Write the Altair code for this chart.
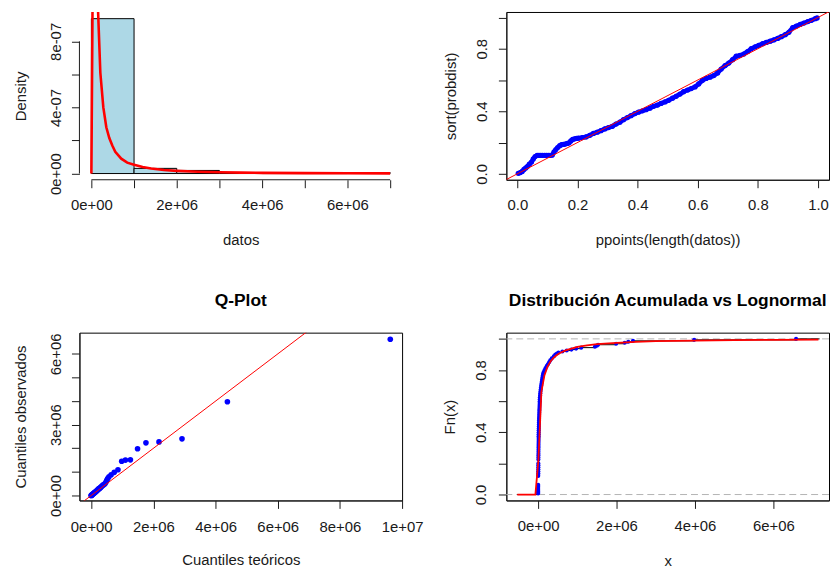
import altair as alt
import pandas as pd

# ---------------- data ----------------
N_OBS = 160

# histogram (top-left)
hist_left = [0, 1000000, 2000000, 3000000, 4000000, 5000000, 6000000]
hist_right = [1000000, 2000000, 3000000, 4000000, 5000000, 6000000, 7000000]
hist_count = [150, 5, 3, 1, 0, 0, 1]

# fitted lognormal density (red curve, top-left)
dens_x = [0, 70000, 140000, 210000, 280000, 350000, 420000, 490000, 560000, 700000,
          840000, 1000000, 1200000, 1400000, 1700000, 2000000, 2500000, 3000000,
          3500000, 4000000, 5000000, 6000000, 7000000]
dens_y = [0, 2.6e-6, 1.1e-6, 6.1e-7, 4.0e-7, 2.8e-7, 2.15e-7, 1.7e-7, 1.32e-7, 9.0e-8,
          6.6e-8, 5.3e-8, 3.9e-8, 3.0e-8, 2.1e-8, 1.6e-8, 1.05e-8, 7.5e-9,
          5.5e-9, 4.2e-9, 2.6e-9, 1.6e-9, 1.0e-9]

# P-P plot (top-right)
pp_x = [0.003, 0.010, 0.016, 0.022, 0.028, 0.034, 0.040, 0.047, 0.053, 0.059,
        0.066, 0.072, 0.078, 0.084, 0.091, 0.097, 0.103, 0.109, 0.116, 0.122,
        0.128, 0.134, 0.141, 0.147, 0.153, 0.159, 0.166, 0.172, 0.178, 0.184,
        0.191, 0.197, 0.203, 0.216, 0.228, 0.241, 0.253, 0.266, 0.278, 0.291,
        0.303, 0.316, 0.328, 0.341, 0.353, 0.366, 0.378, 0.391, 0.403, 0.416,
        0.428, 0.441, 0.453, 0.466, 0.478, 0.491, 0.503, 0.516, 0.528, 0.541,
        0.553, 0.566, 0.578, 0.591, 0.603, 0.616, 0.628, 0.641, 0.653, 0.666,
        0.678, 0.691, 0.703, 0.716, 0.728, 0.741, 0.753, 0.766, 0.778, 0.791,
        0.803, 0.816, 0.828, 0.841, 0.853, 0.866, 0.878, 0.891, 0.903, 0.916,
        0.928, 0.941, 0.953, 0.966, 0.978, 0.991, 0.997]
pp_y = [0.003, 0.008, 0.015, 0.028, 0.038, 0.048, 0.062, 0.075, 0.095, 0.110,
        0.118, 0.118, 0.118, 0.118, 0.118, 0.118, 0.118, 0.118, 0.120, 0.140,
        0.155, 0.168, 0.180, 0.186, 0.188, 0.190, 0.194, 0.198, 0.210, 0.220,
        0.224, 0.226, 0.228, 0.232, 0.236, 0.246, 0.258, 0.266, 0.276, 0.287,
        0.296, 0.304, 0.318, 0.330, 0.346, 0.360, 0.372, 0.385, 0.394, 0.403,
        0.410, 0.420, 0.432, 0.440, 0.450, 0.460, 0.470, 0.484, 0.496, 0.510,
        0.525, 0.536, 0.545, 0.556, 0.575, 0.598, 0.610, 0.618, 0.628, 0.645,
        0.670, 0.692, 0.708, 0.730, 0.752, 0.758, 0.766, 0.782, 0.800, 0.812,
        0.822, 0.832, 0.840, 0.848, 0.856, 0.866, 0.877, 0.890, 0.905, 0.935,
        0.945, 0.955, 0.964, 0.974, 0.982, 0.992, 0.997]
pp_ref = [-0.1, 1.1]

# Q-plot (bottom-left)
qq_theo = [9620000, 4380000, 2920000, 2180000, 1760000, 1490000, 1260000, 1100000,
           980000, 860000, 740000, 640000, 570000, 530000, 500000, 470000, 440000,
           400000, 370000, 345000, 320000, 300000, 280000, 260000, 240000, 225000,
           210000, 195000, 180000, 165000, 150000, 135000, 120000, 105000, 90000,
           75000, 60000, 48000, 36000, 25000, 15000, 8000, 3000, 1000]
qq_obs = [6620000, 3970000, 2400000, 2270000, 2230000, 1980000, 1510000, 1500000,
          1450000, 1090000, 980000, 880000, 790000, 720000, 640000, 560000, 500000,
          460000, 430000, 400000, 370000, 340000, 320000, 300000, 280000, 260000,
          240000, 220000, 200000, 185000, 170000, 150000, 135000, 120000, 100000,
          85000, 70000, 55000, 40000, 28000, 17000, 9000, 4000, 1000]
qq_ref = [-1000000, 8000000]

# empirical CDF (bottom-right): rank of observation and its value
ecdf_rank = [1, 2, 3, 4, 5, 6, 7, 8, 9, 10,
             19,
             20, 22, 24, 26, 28, 30, 32,
             36, 38, 40, 42, 44, 46, 48, 50, 52, 54, 56, 58, 60, 62, 64, 66, 68,
             70, 72, 74, 76, 78, 80, 82, 84, 86, 88, 90, 92, 94, 96, 98, 100,
             102, 104, 106, 108, 110, 112, 114, 116, 118, 120, 122, 124, 126, 128,
             130, 132, 134, 136, 138, 140, 142, 144,
             145, 146, 147, 148, 149, 150, 151, 152, 153, 154, 155, 156, 157, 158,
             159, 160]
ecdf_x = [500, 700, 900, 1100, 1300, 1500, 1700, 1900, 2100, 2300,
          3500,
          4000, 4500, 5000, 5500, 6000, 6500, 7000,
          7500, 8000, 8500, 9000, 9500, 10000, 10500, 11000, 11500, 12000, 12500,
          13000, 13500, 14000, 15000, 16000, 17000,
          18000, 19500, 21000, 22500, 24000, 25500, 27000, 29000, 31000, 33000,
          35000, 37000, 39000, 41000, 43000, 46000,
          50000, 55000, 60000, 66000, 72000, 79000, 86000, 93000, 100000, 108000,
          117000, 126000, 142000, 165000,
          190000, 220000, 250000, 280000, 310000, 350000, 400000, 440000,
          480000, 520000, 620000, 730000, 850000, 970000, 1100000, 1450000,
          1500000, 1530000, 1990000, 2210000, 2300000, 2420000,
          3980000, 6580000]
ECDF_FROM = -530000
ECDF_TO = 7180000
ecdf_hlines = [0, 1]

# fitted lognormal CDF (red curve, bottom-right)
cdf_x = [-530000, -69000, 7600, 84000, 161000, 238000, 315000, 392000, 469000, 546000,
         700000, 850000, 1000000, 1250000, 1500000, 2000000, 2500000, 3000000,
         4000000, 5000000, 6000000, 7150000]
cdf_y = [0, 0, 0.22, 0.66, 0.765, 0.82, 0.855, 0.878, 0.895, 0.908,
         0.926, 0.938, 0.948, 0.958, 0.966, 0.975, 0.981, 0.985,
         0.989, 0.992, 0.994, 0.995]

# tick positions
tl_xticks = [0, 1000000, 2000000, 3000000, 4000000, 5000000, 6000000, 7000000]
tl_yticks = [0, 2e-7, 4e-7, 6e-7, 8e-7]
unit_ticks = [0, 0.2, 0.4, 0.6, 0.8, 1.0]
bl_xticks = [0, 2000000, 4000000, 6000000, 8000000, 10000000]
bl_yticks = [0, 1000000, 2000000, 3000000, 4000000, 5000000, 6000000]
br_xticks = [0, 2000000, 4000000, 6000000]

# ---------------- styling ----------------
FONT = "Liberation Sans"
FS = 15
INK = "#1a1a1a"
TICK = 8
W, H = 325, 169
BLUE = "#0000FF"
RED = "#FF0000"

SCI = "replace(replace(format(datum.value, '.0e'), 'e+', 'e+0'), 'e-', 'e-0')"
HALF = "round(datum.value * 10) % 4 == 0 ? format(datum.value, '.1f') : ''"


def bottom_axis(values, expr, title, domain=True, lab=25, tit=60):
    return alt.Axis(values=values, labelExpr=expr, title=title, orient="bottom", grid=False,
                    domain=domain, domainColor=INK, domainWidth=1,
                    ticks=True, tickColor=INK, tickWidth=1, tickSize=TICK,
                    labelFont=FONT, labelFontSize=FS, labelColor=INK, labelAngle=0,
                    labelAlign="center", labelBaseline="middle", labelPadding=lab - TICK,
                    labelOverlap=False, labelFlush=False,
                    titleFont=FONT, titleFontSize=FS, titleFontWeight="normal", titleColor=INK,
                    titleX=W / 2, titleY=tit, titleAlign="center", titleBaseline="middle",
                    titleAngle=0)


def left_axis(values, expr, title, domain=True, lab=24, tit=-59):
    return alt.Axis(values=values, labelExpr=expr, title=title, orient="left", grid=False,
                    domain=domain, domainColor=INK, domainWidth=1,
                    ticks=True, tickColor=INK, tickWidth=1, tickSize=TICK,
                    labelFont=FONT, labelFontSize=FS, labelColor=INK, labelAngle=270,
                    labelAlign="center", labelBaseline="middle", labelPadding=lab - TICK,
                    labelOverlap=False, labelFlush=False,
                    titleFont=FONT, titleFontSize=FS, titleFontWeight="normal", titleColor=INK,
                    titleX=tit, titleY=H / 2, titleAlign="center", titleBaseline="middle",
                    titleAngle=270)


def panel_title(text):
    return alt.TitleParams(text=text, font=FONT, fontSize=17.5, fontWeight="bold", color="#000000",
                           anchor="middle", frame="group", baseline="middle", offset=14.5)


BOX = alt.ViewBackground(stroke="black", strokeWidth=1)
NOBOX = alt.ViewBackground(stroke=None)

# ---------------- top-left: histogram + density ----------------
hist_df = pd.DataFrame({"left": hist_left, "right": hist_right, "count": hist_count})
hist_df["density"] = hist_df["count"] / (N_OBS * (hist_df["right"] - hist_df["left"]))
xs_tl = alt.Scale(domain=[-280000, 7280000], nice=False, zero=False)
ys_tl = alt.Scale(domain=[-3.77e-8, 9.78e-7], nice=False, zero=False)
ax_tl_x = bottom_axis(tl_xticks, f"datum.value % 2000000 == 0 ? {SCI} : ''", "datos", domain=False)
ax_tl_y = left_axis(tl_yticks, f"round(datum.value * 1e7) % 4 == 0 ? {SCI} : ''", "Density", domain=False)

bars = alt.Chart(hist_df).mark_rect(fill="#ADD8E6", stroke="black", strokeWidth=1).encode(
    x=alt.X("left:Q", scale=xs_tl, axis=ax_tl_x),
    x2="right:Q",
    y=alt.Y("density:Q", scale=ys_tl, axis=ax_tl_y),
    y2=alt.datum(0),
)
tl_axis_df = pd.DataFrame({"x0": [tl_xticks[0]], "x1": [tl_xticks[-1]],
                           "y0": [tl_yticks[0]], "y1": [tl_yticks[-1]]})
x_line = alt.Chart(tl_axis_df).mark_rule(color=INK, strokeWidth=1).encode(
    x=alt.X("x0:Q", scale=xs_tl, axis=ax_tl_x), x2="x1:Q", y=alt.value(H))
y_line = alt.Chart(tl_axis_df).mark_rule(color=INK, strokeWidth=1).encode(
    y=alt.Y("y0:Q", scale=ys_tl, axis=ax_tl_y), y2="y1:Q", x=alt.value(0))
dens_df = pd.DataFrame({"x": dens_x, "y": dens_y})
dens_line = alt.Chart(dens_df).mark_line(color=RED, strokeWidth=2.6, clip=True).encode(
    x=alt.X("x:Q", scale=xs_tl, axis=ax_tl_x), y=alt.Y("y:Q", scale=ys_tl, axis=ax_tl_y))
tl = alt.layer(bars, x_line, y_line, dens_line).properties(width=W, height=H, view=NOBOX)

# ---------------- top-right: P-P plot ----------------
xs_tr = alt.Scale(domain=[-0.0366, 1.0366], nice=False, zero=False)
ys_tr = alt.Scale(domain=[-0.038, 1.035], nice=False, zero=False)
ax_tr_x = bottom_axis(unit_ticks, "format(datum.value, '.1f')", "ppoints(length(datos))")
ax_tr_y = left_axis(unit_ticks, HALF, "sort(probdist)", lab=25, tit=-56)
pp_df = pd.DataFrame({"p": pp_x, "v": pp_y})
pp_band = alt.Chart(pp_df).mark_line(color=BLUE, strokeWidth=4.6).encode(
    x=alt.X("p:Q", scale=xs_tr, axis=ax_tr_x), y=alt.Y("v:Q", scale=ys_tr, axis=ax_tr_y))
pp_pts = alt.Chart(pp_df).mark_circle(color=BLUE, size=28, opacity=1).encode(
    x=alt.X("p:Q", scale=xs_tr, axis=ax_tr_x), y=alt.Y("v:Q", scale=ys_tr, axis=ax_tr_y))
pp_ref_df = pd.DataFrame({"p": pp_ref, "v": pp_ref})
pp_refline = alt.Chart(pp_ref_df).mark_line(color=RED, strokeWidth=1, clip=True).encode(
    x=alt.X("p:Q", scale=xs_tr, axis=ax_tr_x), y=alt.Y("v:Q", scale=ys_tr, axis=ax_tr_y))
tr = alt.layer(pp_band, pp_pts, pp_refline).properties(width=W, height=H, view=BOX)

# ---------------- bottom-left: Q-plot ----------------
xs_bl = alt.Scale(domain=[-380000, 10000000], nice=False, zero=False)
ys_bl = alt.Scale(domain=[-210000, 6900000], nice=False, zero=False)
ax_bl_x = bottom_axis(bl_xticks, SCI, "Cuantiles teóricos", lab=26.5)
ax_bl_y = left_axis(bl_yticks, f"datum.value % 3000000 == 0 ? {SCI} : ''", "Cuantiles observados")
qq_df = pd.DataFrame({"t": qq_theo, "o": qq_obs})
qq_pts = alt.Chart(qq_df).mark_circle(color=BLUE, size=32, opacity=1).encode(
    x=alt.X("t:Q", scale=xs_bl, axis=ax_bl_x), y=alt.Y("o:Q", scale=ys_bl, axis=ax_bl_y))
qq_ref_df = pd.DataFrame({"t": qq_ref, "o": qq_ref})
qq_refline = alt.Chart(qq_ref_df).mark_line(color=RED, strokeWidth=1, clip=True).encode(
    x=alt.X("t:Q", scale=xs_bl, axis=ax_bl_x), y=alt.Y("o:Q", scale=ys_bl, axis=ax_bl_y))
bl = alt.layer(qq_pts, qq_refline).properties(width=W, height=H, view=BOX, title=panel_title("Q-Plot"))

# ---------------- bottom-right: ECDF vs lognormal ----------------
xs_br = alt.Scale(domain=[-810000, 7420000], nice=False, zero=False)
ys_br = alt.Scale(domain=[-0.038, 1.04], nice=False, zero=False)
ax_br_x = bottom_axis(br_xticks, SCI, "x", lab=25.5, tit=60.5)
ax_br_y = left_axis(unit_ticks, HALF, "Fn(x)", lab=25.5, tit=-57)
ecdf_df = pd.DataFrame({"x": ecdf_x, "rank": ecdf_rank})
ecdf_df["fn"] = ecdf_df["rank"] / N_OBS
seg_df = pd.DataFrame({"x": [ECDF_FROM] + ecdf_x,
                       "x1": ecdf_x + [ECDF_TO],
                       "fn": [0.0] + list(ecdf_df["fn"])})
h_df = pd.DataFrame({"fn": ecdf_hlines})
hl = alt.Chart(h_df).mark_rule(color="#B3B3B3", strokeWidth=1, strokeDash=[7, 4]).encode(
    y=alt.Y("fn:Q", scale=ys_br, axis=ax_br_y))
segs = alt.Chart(seg_df).mark_rule(color="black", strokeWidth=1).encode(
    x=alt.X("x:Q", scale=xs_br, axis=ax_br_x), x2="x1:Q",
    y=alt.Y("fn:Q", scale=ys_br, axis=ax_br_y))
ecdf_pts = alt.Chart(ecdf_df).mark_circle(color=BLUE, size=17, opacity=1).encode(
    x=alt.X("x:Q", scale=xs_br, axis=ax_br_x), y=alt.Y("fn:Q", scale=ys_br, axis=ax_br_y))
cdf_df = pd.DataFrame({"x": cdf_x, "fn": cdf_y})
cdf_line = alt.Chart(cdf_df).mark_line(color=RED, strokeWidth=1.8).encode(
    x=alt.X("x:Q", scale=xs_br, axis=ax_br_x), y=alt.Y("fn:Q", scale=ys_br, axis=ax_br_y))
br = alt.layer(hl, segs, ecdf_pts, cdf_line).properties(
    width=W, height=H, view=BOX, title=panel_title("Distribución Acumulada vs Lognormal"))

# ---------------- assemble ----------------
chart = alt.concat(tl, tr, bl, br, columns=2, spacing={"row": 154, "column": 105},
                   bounds="flush").properties(
    padding={"left": 13, "top": 6, "right": 0, "bottom": 0},
    background="white",
).configure_view(stroke=None)

chart.save("out.html", embed_options={"renderer": "svg", "actions": False})
